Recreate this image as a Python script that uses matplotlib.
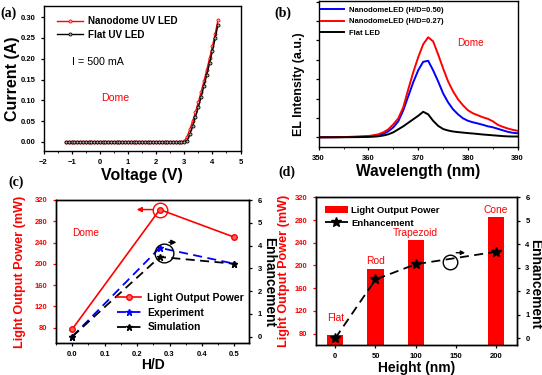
import matplotlib
matplotlib.use("Agg")
import matplotlib.pyplot as plt
from matplotlib.ticker import MultipleLocator

plt.rcParams['font.family'] = ['Liberation Sans', 'DejaVu Sans']
plt.rcParams['axes.linewidth'] = 1.0
plt.rcParams['xtick.major.size'] = 2.5
plt.rcParams['ytick.major.size'] = 2.5
plt.rcParams['xtick.minor.size'] = 1.5
plt.rcParams['ytick.minor.size'] = 1.5
plt.rcParams['xtick.major.width'] = 0.9
plt.rcParams['ytick.major.width'] = 0.9

RED = '#ff0000'
BLUE = '#0000ff'

# (a) I-V curves
voltage = [-1.2, -1.1, -1.0, -0.9, -0.8, -0.7, -0.6, -0.5, -0.4, -0.3, -0.2, -0.1,
           0.0, 0.1, 0.2, 0.3, 0.4, 0.5, 0.6, 0.7, 0.8, 0.9, 1.0, 1.1, 1.2, 1.3,
           1.4, 1.5, 1.6, 1.7, 1.8, 1.9, 2.0, 2.1, 2.2, 2.3, 2.4, 2.5, 2.6, 2.7,
           2.8, 2.9, 3.0, 3.1, 3.2, 3.3, 3.4, 3.5, 3.6, 3.7, 3.8, 3.9, 4.0, 4.1, 4.2]
current_dome = [0.0, 0.0, 0.0, 0.0, 0.0, 0.0, 0.0, 0.0, 0.0, 0.0, 0.0, 0.0,
                0.0, 0.0, 0.0, 0.0, 0.0, 0.0, 0.0, 0.0, 0.0, 0.0, 0.0, 0.0, 0.0, 0.0,
                0.0, 0.0, 0.0, 0.0, 0.0, 0.0, 0.0, 0.0, 0.0, 0.0, 0.0, 0.0, 0.0, 0.0,
                0.0, 0.0, 0.001, 0.012, 0.030, 0.050, 0.072, 0.095, 0.120, 0.146,
                0.173, 0.201, 0.230, 0.260, 0.293]
current_flat = [0.0, 0.0, 0.0, 0.0, 0.0, 0.0, 0.0, 0.0, 0.0, 0.0, 0.0, 0.0,
                0.0, 0.0, 0.0, 0.0, 0.0, 0.0, 0.0, 0.0, 0.0, 0.0, 0.0, 0.0, 0.0, 0.0,
                0.0, 0.0, 0.0, 0.0, 0.0, 0.0, 0.0, 0.0, 0.0, 0.0, 0.0, 0.0, 0.0, 0.0,
                0.0, 0.0, 0.0, 0.002, 0.018, 0.038, 0.060, 0.083, 0.108, 0.134,
                0.161, 0.189, 0.218, 0.249, 0.282]

# (b) EL spectra (a.u.)
wavelength = [350, 352, 354, 356, 358, 360, 361, 362, 363, 364, 365, 366, 367, 368,
              369, 370, 371, 372, 373, 374, 375, 376, 377, 378, 379, 380, 381, 382,
              383, 384, 385, 386, 387, 388, 389, 390]
el_050 = [0, 0.1, 0.2, 0.3, 0.5, 1.0, 1.5, 2.2, 3.5, 6, 10, 16, 27, 41, 55, 67, 75.5,
          76.5, 67, 56, 44, 35, 28, 23, 19, 16.5, 15, 13.8, 12.5, 11, 10, 8.5, 7, 5.5,
          4.5, 4]
el_027 = [0, 0.1, 0.2, 0.4, 0.7, 1.3, 2.0, 3.0, 5.0, 8.0, 13, 19, 30, 48, 65, 80, 93,
          100, 96, 83, 69, 56, 46, 38, 32, 27, 24, 22, 20, 18.5, 16, 12.5, 10.5, 8.8,
          7.5, 6.5]
el_flat = [0, 0, 0, 0.1, 0.2, 0.4, 0.6, 1.0, 1.8, 3.0, 5.0, 8.0, 11, 14.5, 18, 21.5,
           25.5, 23, 16.5, 11.5, 8.3, 6.8, 5.8, 5.2, 4.7, 4.2, 3.8, 3.3, 2.8, 2.4, 2.0,
           1.6, 1.2, 0.9, 0.8, 0.8]

# (c) vs H/D
hd = [0.0, 0.27, 0.5]
lop_hd = [77, 302, 250]
enh_exp = [0.0, 3.9, 3.2]
enh_sim = [0.0, 3.5, 3.2]

# (d) vs height
height = [0, 50, 100, 200]
shapes = ['Flat', 'Rod', 'Trapezoid', 'Cone']
lop_h = [77, 194, 245, 285]
enh_h = [0.0, 2.5, 3.15, 3.68]

fig = plt.figure(figsize=(5.42, 3.75), dpi=100)
W, H = 542.0, 375.0


def box(l, t, r, b):
    return [l / W, (H - b) / H, (r - l) / W, (b - t) / H]


tick_kw = dict(labelsize=5.5)


def bold_ticks(ax):
    for lab in ax.get_xticklabels() + ax.get_yticklabels():
        lab.set_fontweight('bold')


# ---------- (a)
ax_a = fig.add_axes(box(43.5, 6, 240.5, 151))
ax_a.plot(voltage, current_dome, '-o', color=RED, lw=1.0, ms=2.2, mfc='#ffb0b0', mew=0.6,
          label='Nanodome UV LED')
ax_a.plot(voltage, current_flat, '-o', color='black', lw=1.0, ms=2.2, mfc='#b0b0b0',
          mew=0.6, label='Flat UV LED')
ax_a.set_xlim(-2, 5)
ax_a.set_ylim(-0.022, 0.327)
ax_a.xaxis.set_major_locator(MultipleLocator(1))
ax_a.xaxis.set_minor_locator(MultipleLocator(0.5))
ax_a.yaxis.set_major_locator(MultipleLocator(0.05))
ax_a.yaxis.set_major_formatter(matplotlib.ticker.FormatStrFormatter('%.2f'))
ax_a.tick_params(**tick_kw)
ax_a.set_xlabel('Voltage (V)', fontsize=11.4, fontweight='bold', va='center')
ax_a.set_ylabel('Current (A)', fontsize=11.5, fontweight='bold', va='center')
ax_a.xaxis.set_label_coords(0.5, -0.172)
ax_a.yaxis.set_label_coords(-0.155, 0.5)
ax_a.legend(loc='upper left', bbox_to_anchor=(0.04, 0.97), frameon=False,
            prop={'weight': 'bold', 'size': 7.1}, handlelength=2.6, handletextpad=0.5,
            labelspacing=0.35, borderaxespad=0.2)
ax_a.text(-1.0, 0.193, 'I = 500 mA', fontsize=7.7, va='center')
ax_a.text(0.53, 0.105, 'Dome', fontsize=7.6, color=RED, ha='center', va='center')
bold_ticks(ax_a)

# ---------- (b)
ax_b = fig.add_axes(box(318.7, 1, 517.7, 146.7))
ax_b.plot(wavelength, el_050, color=BLUE, lw=1.4, label='NanodomeLED (H/D=0.50)')
ax_b.plot(wavelength, el_027, color=RED, lw=1.4, label='NanodomeLED (H/D=0.27)')
ax_b.plot(wavelength, el_flat, color='black', lw=1.4, label='Flat LED')
ax_b.set_xlim(350, 390)
ax_b.set_ylim(-9.4, 136.3)
ax_b.xaxis.set_major_locator(MultipleLocator(10))
ax_b.xaxis.set_minor_locator(MultipleLocator(5))
ax_b.yaxis.set_major_locator(MultipleLocator(19.4))
ax_b.tick_params(**tick_kw)
ax_b.tick_params(axis='y', labelleft=False)
ax_b.set_xlabel('Wavelength (nm)', fontsize=11.2, fontweight='bold', va='center')
ax_b.set_ylabel('EL Intensity (a.u.)', fontsize=8.9, fontweight='bold', va='center')
ax_b.xaxis.set_label_coords(0.5, -0.172)
ax_b.yaxis.set_label_coords(-0.099, 0.427)
ax_b.legend(loc='upper left', bbox_to_anchor=(-0.01, 0.995), frameon=False,
            prop={'weight': 'bold', 'size': 5.5}, handlelength=3.0, handletextpad=0.6,
            labelspacing=0.55, borderaxespad=0.2)
ax_b.text(380.6, 94, 'Dome', fontsize=7.2, color=RED, ha='center', va='center')
bold_ticks(ax_b)

# ---------- (c)
ax_c = fig.add_axes(box(56, 200, 249.3, 343))
ax_c2 = ax_c.twinx()
l1, = ax_c.plot(hd, lop_hd, '-o', color=RED, lw=1.2, ms=4, mfc='#ff6060', mec=RED,
                label='Light Output Power')
l2, = ax_c2.plot(hd, enh_exp, '--*', color=BLUE, lw=1.3, ms=5, dashes=(5, 3),
                 label='Experiment')
l3, = ax_c2.plot(hd, enh_sim, '--*', color='black', lw=1.3, ms=5, dashes=(5, 3),
                 label='Simulation')
ax_c.set_xlim(-0.05, 0.546)
ax_c.set_ylim(51, 320)
ax_c2.set_ylim(-0.28, 6)
ax_c.xaxis.set_major_locator(MultipleLocator(0.1))
ax_c.xaxis.set_minor_locator(MultipleLocator(0.05))
ax_c.xaxis.set_major_formatter(matplotlib.ticker.FormatStrFormatter('%.1f'))
ax_c.yaxis.set_major_locator(MultipleLocator(40))
ax_c2.yaxis.set_major_locator(MultipleLocator(1))
ax_c.tick_params(**tick_kw)
ax_c2.tick_params(**tick_kw)
ax_c.tick_params(axis='y', labelcolor=RED, color=RED)
ax_c.set_xlabel('H/D', fontsize=10, fontweight='bold', va='center')
ax_c.set_ylabel('Light Output Power (mW)', fontsize=9.1, fontweight='bold',
                color=RED, va='center')
ax_c2.set_ylabel('Enhancement', fontsize=9.9, fontweight='bold', rotation=270,
                 va='center')
ax_c.xaxis.set_label_coords(0.5, -0.154)
ax_c.yaxis.set_label_coords(-0.186, 0.5)
ax_c2.yaxis.set_label_coords(1.105, 0.427)
ax_c.text(0.0, 258, 'Dome', fontsize=7.3, color=RED, va='center')
# guide circles and arrows
ax_c.plot([hd[1]], [lop_hd[1]], 'o', ms=10.5, mfc='none', mec=RED, mew=1.0)
ax_c.annotate('', xy=(0.19, 302), xytext=(0.256, 302),
              arrowprops=dict(arrowstyle='-|>', color=RED, lw=1.1, mutation_scale=7))
ax_c2.plot([0.282], [3.66], 'o', ms=13.5, mfc='none', mec='black', mew=1.0)
ax_c2.annotate('', xy=(0.33, 4.14), xytext=(0.29, 4.14),
               arrowprops=dict(arrowstyle='-|>', color='black', lw=1.1, mutation_scale=7))
ax_c2.legend([l1, l2, l3], ['Light Output Power', 'Experiment', 'Simulation'],
             loc='lower left', bbox_to_anchor=(0.265, 0.01), frameon=False,
             prop={'weight': 'bold', 'size': 7.5}, handlelength=2.3,
             handletextpad=0.65, labelspacing=0.45)
bold_ticks(ax_c)
bold_ticks(ax_c2)

# ---------- (d)
ax_d = fig.add_axes(box(316, 197.3, 517, 345))
ax_d2 = ax_d.twinx()
bars = ax_d.bar(height, lop_h, width=20, color=RED, label='Light Output Power')
l4, = ax_d2.plot(height, enh_h, '--*', color='black', lw=1.3, ms=7, dashes=(5, 3),
                 label='Enhancement')
ax_d.set_xlim(-24, 226)
ax_d.set_ylim(60, 320)
ax_d2.set_ylim(-0.29, 6)
ax_d.xaxis.set_major_locator(MultipleLocator(50))
ax_d.yaxis.set_major_locator(MultipleLocator(40))
ax_d2.yaxis.set_major_locator(MultipleLocator(1))
ax_d.tick_params(**tick_kw)
ax_d2.tick_params(**tick_kw)
ax_d.tick_params(axis='y', labelcolor=RED, color=RED)
ax_d.set_xlabel('Height (nm)', fontsize=10, fontweight='bold', va='center')
ax_d.set_ylabel('Light Output Power (mW)', fontsize=9.1, fontweight='bold',
                color=RED, va='center')
ax_d2.set_ylabel('Enhancement', fontsize=9.9, fontweight='bold', rotation=270,
                 va='center')
ax_d.xaxis.set_label_coords(0.5, -0.154)
ax_d.yaxis.set_label_coords(-0.158, 0.5)
ax_d2.yaxis.set_label_coords(1.09, 0.416)
# shape names sit just above each bar (Flat a bit higher to clear the star)
for x, y, name, off in zip(height, lop_h, shapes, [30, 13, 13, 13]):
    ax_d.text(x, y + off, name, fontsize=7.4, color=RED, ha='center', va='center')
ax_d2.plot([143], [3.26], 'o', ms=10.5, mfc='none', mec='black', mew=1.0)
ax_d2.annotate('', xy=(165, 3.64), xytext=(147, 3.64),
               arrowprops=dict(arrowstyle='-|>', color='black', lw=1.0, mutation_scale=6))
ax_d2.legend([bars, l4], ['Light Output Power', 'Enhancement'], loc='upper left',
             bbox_to_anchor=(0.0, 1.0), frameon=False,
             prop={'weight': 'bold', 'size': 6.8}, handlelength=2.5,
             handletextpad=0.35, labelspacing=0.4)
bold_ticks(ax_d)
bold_ticks(ax_d2)

# panel letters
for txt, (px, py) in zip(['(a)', '(b)', '(c)', '(d)'],
                         [(0, 13), (274, 13), (8, 182), (278, 172)]):
    fig.text(px / W, 1 - py / H, txt, fontsize=10, fontweight='bold',
             family='Liberation Serif', va='center')

fig.savefig('out.png', dpi=100)
